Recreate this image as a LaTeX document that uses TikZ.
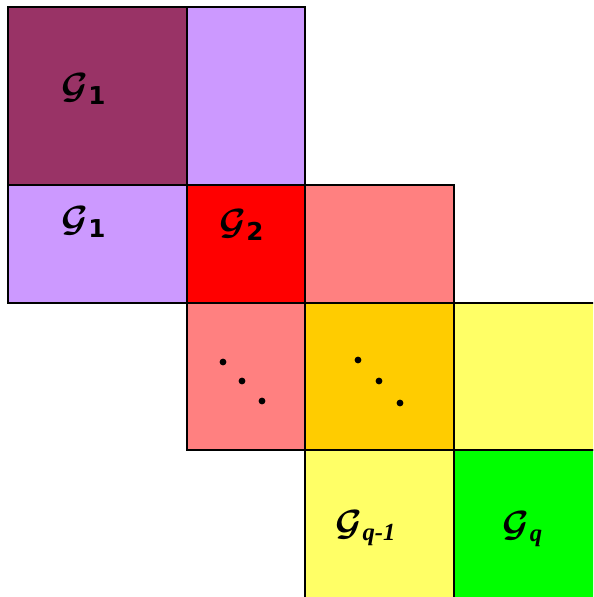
\documentclass[tikz,border=0pt]{standalone}
\usepackage{amsmath,amssymb,bm}
\usepackage{fontspec}
\newfontfamily\subsans{DejaVu Sans}
\newfontfamily\subserif{Liberation Serif}
\definecolor{plum}{HTML}{993366}
\definecolor{lilac}{HTML}{CC99FF}
\definecolor{salmon}{HTML}{FF8080}
\definecolor{gold}{HTML}{FFCC00}
\definecolor{lemon}{HTML}{FFFF66}
\newcommand{\Gr}[1]{\bm{\mathcal{G}}_{\text{\subsans\bfseries #1}}}
\newcommand{\Gq}[1]{\bm{\mathcal{G}}_{\text{\subserif\bfseries\itshape #1}}}

\begin{document}
\begin{tikzpicture}[x=0.02cm,y=-0.02cm,
	blk/.style={draw=black,line width=0.8pt},
	lbl/.style={inner sep=0pt,font=\fontsize{20}{22}\selectfont}]
	\useasboundingbox (0,0) rectangle (593,597);
	\clip (0,0) rectangle (593,597);
	% first block
	\filldraw[blk,fill=plum]  (8,7)   rectangle (187,185);
	\filldraw[blk,fill=lilac] (187,7) rectangle (305,185);
	\filldraw[blk,fill=lilac] (8,185) rectangle (187,303);
	% second block
	\filldraw[blk,fill=red]    (187,185) rectangle (305,303);
	\filldraw[blk,fill=salmon] (305,185) rectangle (454,303);
	\filldraw[blk,fill=salmon] (187,303) rectangle (305,450);
	% middle block
	\filldraw[blk,fill=gold]  (305,303) rectangle (454,450);
	\filldraw[blk,fill=lemon] (454,303) rectangle (610,450);
	\filldraw[blk,fill=lemon] (305,450) rectangle (454,610);
	% last block
	\filldraw[blk,fill=green] (454,450) rectangle (610,610);
	\node[lbl] (g1a) at (84,89)   {$\Gr{1}$};
	\node[lbl] (g1b) at (84,222)  {$\Gr{1}$};
	\node[lbl] (g2)  at (242,225) {$\Gr{2}$};
	\node[lbl] (gq1) at (366,528) {$\Gq{q-1}$};
	\node[lbl] (gq)  at (523,529) {$\Gq{q}$};
	\foreach \x/\y in {223/362,242/381,262/401,358/360,379/381,400/403}
		\fill (\x,\y) circle (3.4);
\end{tikzpicture}
\end{document}
